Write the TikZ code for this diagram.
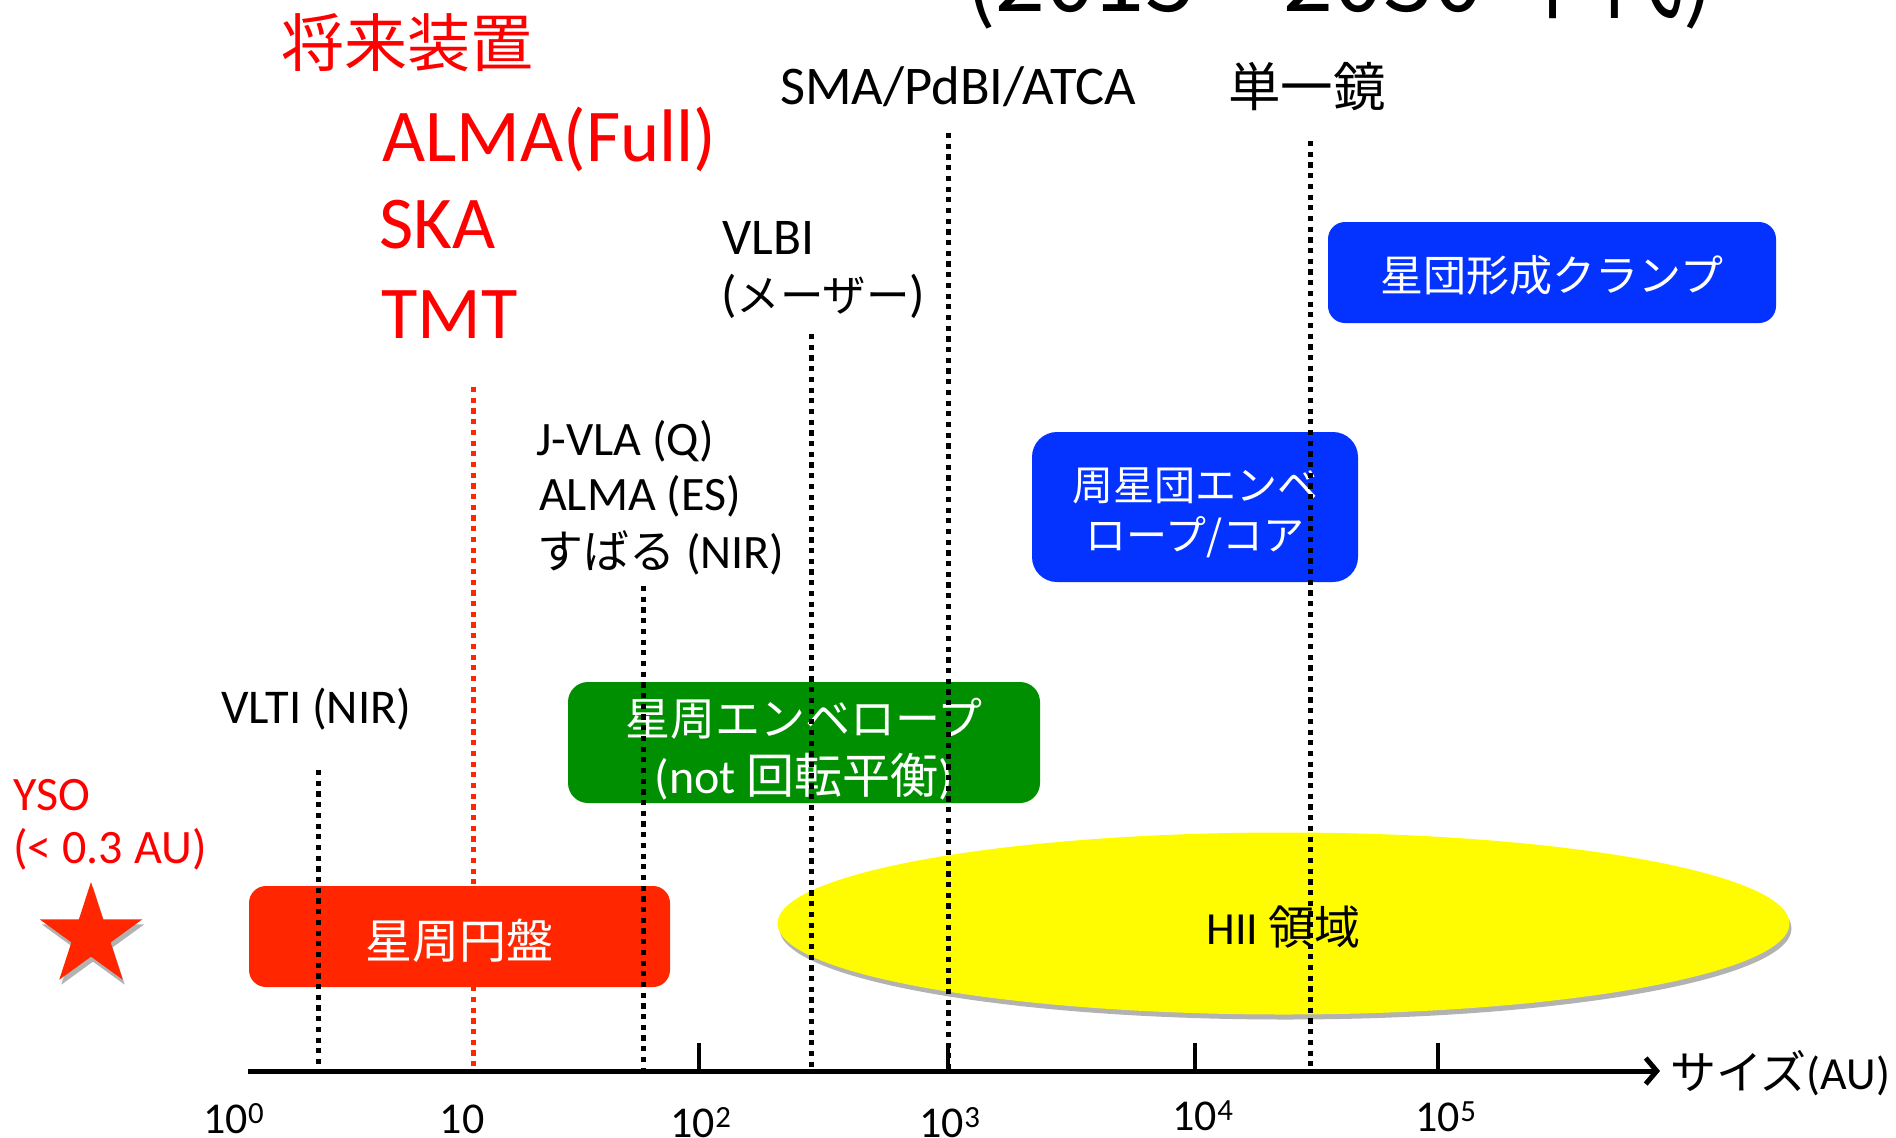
\documentclass[tikz,border=0pt]{standalone}
\usepackage{fontspec}
\setmainfont{Carlito}
\newfontfamily\jp{Noto Sans CJK JP}
\usetikzlibrary{shapes.geometric,arrows.meta,shadows}
\newcommand{\myfs}[2]{\fontsize{#1}{#2}\selectfont}
\newcommand{\lowertxt}[2]{\raisebox{-#1}[\height][\depth]{#2}}
\definecolor{txtRed}{HTML}{FF0000}
\definecolor{boxRed}{HTML}{FF2600}
\definecolor{boxGreen}{HTML}{008F00}
\definecolor{boxBlue}{HTML}{0433FF}
\definecolor{ellYellow}{HTML}{FFFB00}
\begin{document}
\begin{tikzpicture}[x=1pt,y=-1pt,
  lbl/.style={inner sep=0pt, anchor=base west},
  rbox/.style={draw=none, inner sep=0pt, text=white, align=center},
  dotblack/.style={draw=black, line width=5pt, dash pattern=on 5.2pt off 5.5pt},
  dotred/.style={draw=boxRed, line width=5pt, dash pattern=on 5.2pt off 5.5pt},
  axisline/.style={line width=5pt, -{Straight Barb[length=11pt,width=26pt]}},
  axtick/.style={line width=4pt},
  ticklbl/.style={inner sep=0pt, anchor=base, font=\myfs{44}{50}},
  softshadow/.style={drop shadow={shadow xshift=2pt, shadow yshift=-5pt, fill=black, opacity=0.3}}
]
\useasboundingbox (0,0) rectangle (1896,1138);
\clip (0,0) rectangle (1896,1138);

% title (cut off at the top)
\node[lbl, font=\jp\myfs{90}{96}] (title) at (965,11) {(2015 – 2030 年代)};

% YSO star
\node[star, star points=5, star point ratio=2.618, minimum size=108pt, inner sep=0pt,
      fill=boxRed, softshadow] (star) at (91,936) {};

% HII region
\node[ellipse, minimum width=1012pt, minimum height=182pt, inner sep=0pt, fill=ellYellow,
      softshadow, font=\jp\myfs{46}{54}] (hii) at (1283.5,923.5) {\lowertxt{4pt}{{\rmfamily HII }領域}};

% red dotted line (hidden behind the red box)
\coordinate (tenTop) at (473,387);
\coordinate (tenBot) at (473,1071);
\draw[dotred] (tenTop) -- (tenBot);

% boxes
\node[rbox, fill=boxRed, minimum width=421pt, minimum height=101pt, rounded corners=17pt,
      font=\jp\myfs{47}{56}] (disk) at (459.5,936.5) {\lowertxt{4pt}{星周円盤}};
\node[rbox, fill=boxGreen, minimum width=472pt, minimum height=121pt, rounded corners=20pt,
      font=\jp\myfs{45}{58}] (envelope) at (804,742.5)
      {\rule{0pt}{50pt}星周エンベロープ\\{\myfs{48}{58}\rmfamily(not }{\myfs{48}{58}回転平衡}{\myfs{48}{58}\rmfamily)}};
\node[rbox, fill=boxBlue, minimum width=326pt, minimum height=150pt, rounded corners=25pt,
      font=\jp\myfs{41}{50}] (clusterenv) at (1195,507) {\rule{0pt}{45pt}周星団エンベ\\ロープ/コア};
\node[rbox, fill=boxBlue, minimum width=448pt, minimum height=101pt, rounded corners=17pt,
      font=\jp\myfs{43}{52}] (clump) at (1552,272.5) {\lowertxt{3pt}{星団形成クランプ}};

% black dotted lines
\coordinate (vltiTop) at (318,770);   \coordinate (vltiBot) at (318,1071);
\coordinate (jvlaTop) at (643,586);   \coordinate (jvlaBot) at (643,1068);
\coordinate (vlbiTop) at (811,334);   \coordinate (vlbiBot) at (811,1071);
\coordinate (smaTop) at (948,133);    \coordinate (smaBot) at (948,1071);
\coordinate (sdTop) at (1310,141);    \coordinate (sdBot) at (1310,1071);
\draw[dotblack] (vltiTop) -- (vltiBot);
\draw[dotblack] (jvlaTop) -- (jvlaBot);
\draw[dotblack] (vlbiTop) -- (vlbiBot);
\draw[dotblack] (smaTop) -- (smaBot);
\draw[dotblack] (sdTop) -- (sdBot);

% axis
\coordinate (axL) at (248,1071);
\coordinate (axR) at (1660,1071);
\draw[axisline] (axL) -- (axR);
\draw[axtick] (699,1071) -- (699,1043);
\draw[axtick] (948,1071) -- (948,1043);
\draw[axtick] (1195,1071) -- (1195,1043);
\draw[axtick] (1438,1071) -- (1438,1043);

% tick labels
\node[ticklbl] (t0) at (234,1133) {10\textsuperscript{0}};
\node[ticklbl] (t1) at (462,1133) {10};
\node[ticklbl] (t2) at (701,1137) {10\textsuperscript{2}};
\node[ticklbl] (t3) at (950,1137) {10\textsuperscript{3}};
\node[ticklbl] (t4) at (1203,1130) {10\textsuperscript{4}};
\node[ticklbl] (t5) at (1446,1131) {10\textsuperscript{5}};
\node[lbl, font=\myfs{46}{54}] (sizelbl) at (1670,1089) {{\jp サイズ}(AU)};

% red labels (future instruments)
\node[lbl, text=txtRed, font=\jp\myfs{63}{70}] (future) at (281,66) {将来装置};
\node[lbl, text=txtRed, font=\myfs{74.5}{88}] (almafull) at (382,161) {ALMA(Full)};
\node[lbl, text=txtRed, font=\myfs{74.5}{88}] (ska) at (379,248) {SKA};
\node[lbl, text=txtRed, font=\myfs{74.5}{88}] (tmt) at (381,338) {TMT};

% black labels
\node[lbl, font=\myfs{54.5}{64}] (sma) at (780,104) {SMA/PdBI/ATCA};
\node[lbl, font=\jp\myfs{52.5}{60}] (single) at (1228,106) {単一鏡};
\node[lbl, font=\myfs{51.5}{58}] (vlbi1) at (722,254) {VLBI};
\node[lbl, font=\myfs{51}{58}] (vlbi2) at (721,311) {({\jp\myfs{43.5}{50}メーザー})};
\node[lbl, font=\myfs{48}{56}] (jvla1) at (536,455) {J-VLA (Q)};
\node[lbl, font=\myfs{48}{56}] (jvla2) at (539,510) {ALMA (ES)};
\node[lbl, font=\myfs{48}{56}] (jvla3) at (537,568) {{\jp\myfs{46}{56}すばる} (NIR)};
\node[lbl, font=\myfs{48.5}{56}] (vlti) at (221,723) {VLTI (NIR)};
\node[lbl, text=txtRed, font=\myfs{48}{56}] (yso1) at (13,810) {YSO};
\node[lbl, text=txtRed, font=\myfs{48}{56}] (yso2) at (13,863) {(< 0.3 AU)};
\end{tikzpicture}
\end{document}
